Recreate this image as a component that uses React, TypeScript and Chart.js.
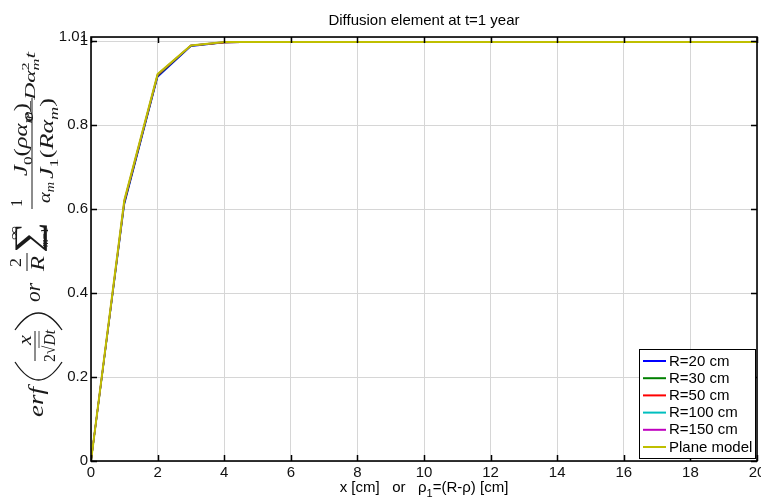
import React, { useEffect, useRef } from 'react';
import { Chart, registerables } from 'chart.js';

Chart.register(...registerables);

const xValues = [0, 1, 2, 3, 4, 5, 6, 7, 8, 9, 10, 11, 12, 13, 14, 15, 16, 17, 18, 19, 20];
const r20 = [0, 0.611, 0.915, 0.988, 0.997, 0.998, 0.998, 0.998, 0.998, 0.998, 0.998, 0.998, 0.998, 0.998, 0.998, 0.998, 0.998, 0.998, 0.998, 0.998, 0.998];
const r30 = [0, 0.614, 0.917, 0.989, 0.997, 0.998, 0.998, 0.998, 0.998, 0.998, 0.998, 0.998, 0.998, 0.998, 0.998, 0.998, 0.998, 0.998, 0.998, 0.998, 0.998];
const r50 = [0, 0.617, 0.919, 0.990, 0.997, 0.998, 0.998, 0.998, 0.998, 0.998, 0.998, 0.998, 0.998, 0.998, 0.998, 0.998, 0.998, 0.998, 0.998, 0.998, 0.998];
const r100 = [0, 0.619, 0.920, 0.990, 0.998, 0.998, 0.998, 0.998, 0.998, 0.998, 0.998, 0.998, 0.998, 0.998, 0.998, 0.998, 0.998, 0.998, 0.998, 0.998, 0.998];
const r150 = [0, 0.620, 0.921, 0.990, 0.998, 0.998, 0.998, 0.998, 0.998, 0.998, 0.998, 0.998, 0.998, 0.998, 0.998, 0.998, 0.998, 0.998, 0.998, 0.998, 0.998];
const plane = [0, 0.621, 0.922, 0.990, 0.998, 0.998, 0.998, 0.998, 0.998, 0.998, 0.998, 0.998, 0.998, 0.998, 0.998, 0.998, 0.998, 0.998, 0.998, 0.998, 0.998];

const seriesNames = ['R=20 cm', 'R=30 cm', 'R=50 cm', 'R=100 cm', 'R=150 cm', 'Plane model'];
const seriesValues = [r20, r30, r50, r100, r150, plane];
const seriesColors = ['#0000ff', '#008000', '#ff0000', '#00bfbf', '#bf00bf', '#bfbf00'];
const seriesWidths = [1.5, 1.5, 1.5, 1.5, 1.5, 2];

const xTicks = [0, 2, 4, 6, 8, 10, 12, 14, 16, 18, 20];
const yTicks = [0, 0.2, 0.4, 0.6, 0.8, 1, 1.01];
const yBoxTicks = [0, 0.2, 0.4, 0.6, 0.8, 1];

const titleText = 'Diffusion element at t=1 year';
const SANS = "'Liberation Sans', Arial, Helvetica, sans-serif";
const SERIF = "'Liberation Serif', 'DejaVu Serif', serif";
const INK = '#1a1a1a';

type Part = { t: string; it?: boolean; sub?: boolean; sup?: boolean; noadv?: boolean };

function drawGroup(ctx: CanvasRenderingContext2D, parts: Part[], yBottom: number, yTop: number, bx: number, size: number) {
  const fontFor = (p: Part) => {
    const s = p.sub || p.sup ? size * 0.7 : size;
    return `${p.it ? 'italic ' : ''}${s}px ${SERIF}`;
  };
  let w = 0;
  for (const p of parts) {
    ctx.font = fontFor(p);
    if (!p.noadv) w += ctx.measureText(p.t).width;
  }
  const k = (yBottom - yTop) / w;
  ctx.save();
  ctx.translate(bx, yBottom);
  ctx.rotate(-Math.PI / 2);
  ctx.scale(k, 1);
  ctx.textAlign = 'left';
  ctx.textBaseline = 'alphabetic';
  ctx.fillStyle = INK;
  let u = 0;
  for (const p of parts) {
    ctx.font = fontFor(p);
    const dv = p.sub ? size * 0.25 : p.sup ? -size * 0.4 : 0;
    ctx.fillText(p.t, u, dv);
    if (!p.noadv) u += ctx.measureText(p.t).width;
  }
  ctx.restore();
}

function vline(ctx: CanvasRenderingContext2D, x: number, y1: number, y2: number, w = 1) {
  ctx.save();
  ctx.strokeStyle = INK;
  ctx.lineWidth = w;
  ctx.beginPath();
  ctx.moveTo(x, y1);
  ctx.lineTo(x, y2);
  ctx.stroke();
  ctx.restore();
}

function paren(ctx: CanvasRenderingContext2D, x1: number, x2: number, yEnd: number, yBulge: number) {
  const c = 2 * yBulge - yEnd;
  ctx.save();
  ctx.strokeStyle = INK;
  ctx.lineWidth = 1.3;
  ctx.beginPath();
  ctx.moveTo(x1, yEnd);
  ctx.quadraticCurveTo((x1 + x2) / 2, c, x2, yEnd);
  ctx.stroke();
  ctx.restore();
}

const decorPlugin = {
  id: 'decor',
  afterDatasetsDraw(chart: any) {
    const ctx: CanvasRenderingContext2D = chart.ctx;
    const { left, right, top, bottom } = chart.chartArea;
    const xs = chart.scales.x;
    const ys = chart.scales.y;
    ctx.save();
    // ticks
    ctx.strokeStyle = '#000';
    ctx.lineWidth = 1.5;
    ctx.beginPath();
    for (const v of xTicks) {
      const px = Math.round(xs.getPixelForValue(v)) + 0.5;
      ctx.moveTo(px, bottom);
      ctx.lineTo(px, bottom - 6);
      ctx.moveTo(px, top);
      ctx.lineTo(px, top + 6);
    }
    for (const v of yBoxTicks) {
      const py = Math.round(ys.getPixelForValue(v)) + 0.5;
      ctx.moveTo(left, py);
      ctx.lineTo(left + 6, py);
      ctx.moveTo(right, py);
      ctx.lineTo(right - 6, py);
    }
    ctx.stroke();
    // box
    ctx.lineWidth = 1.6;
    ctx.strokeRect(left, top, right - left, bottom - top);

    // legend
    const lx = 639.5, ly = 349.5, lw = 116, lh = 109;
    ctx.fillStyle = '#fff';
    ctx.fillRect(lx, ly, lw, lh);
    ctx.lineWidth = 1;
    ctx.strokeStyle = '#000';
    ctx.strokeRect(lx, ly, lw, lh);
    ctx.font = `15px ${SANS}`;
    ctx.textBaseline = 'middle';
    ctx.textAlign = 'left';
    seriesNames.forEach((name, i) => {
      const cy = 361 + i * 17.2;
      ctx.strokeStyle = seriesColors[i];
      ctx.lineWidth = 2;
      ctx.beginPath();
      ctx.moveTo(643, cy);
      ctx.lineTo(666, cy);
      ctx.stroke();
      ctx.fillStyle = '#000';
      ctx.fillText(name, 669, cy + 0.5);
    });

    // title
    ctx.fillStyle = '#000';
    ctx.font = `15px ${SANS}`;
    ctx.textAlign = 'center';
    ctx.textBaseline = 'middle';
    ctx.fillText(titleText, (left + right) / 2, 21);

    // x axis title with subscript
    const p1 = 'x [cm]   or   \u03C1';
    const p2 = '1';
    const p3 = '=(R-\u03C1) [cm]';
    ctx.font = `15px ${SANS}`;
    const w1 = ctx.measureText(p1).width;
    const w3 = ctx.measureText(p3).width;
    ctx.font = `11px ${SANS}`;
    const w2 = ctx.measureText(p2).width;
    const tot = w1 + w2 + w3;
    const sx = (left + right) / 2 - tot / 2;
    ctx.textAlign = 'left';
    ctx.textBaseline = 'alphabetic';
    ctx.font = `15px ${SANS}`;
    ctx.fillText(p1, sx, 492);
    ctx.font = `11px ${SANS}`;
    ctx.fillText(p2, sx + w1, 497);
    ctx.font = `15px ${SANS}`;
    ctx.fillText(p3, sx + w1 + w2, 492);

    // y axis formula
    drawGroup(ctx, [{ t: 'erf', it: true }], 417, 387, 43, 20);
    paren(ctx, 15, 62, 362, 380);
    paren(ctx, 15, 62, 330, 313);
    drawGroup(ctx, [{ t: 'x', it: true }], 345, 335, 31, 18);
    vline(ctx, 35, 331, 361, 1);
    drawGroup(ctx, [{ t: '2' }, { t: '\u221A' }, { t: 'Dt', it: true }], 362, 330, 55, 17);
    vline(ctx, 39, 331, 348, 0.8);
    drawGroup(ctx, [{ t: 'or', it: true }], 302, 283, 40, 20);
    drawGroup(ctx, [{ t: '2' }], 267, 258, 21, 16);
    vline(ctx, 27, 253, 271, 1);
    drawGroup(ctx, [{ t: 'R', it: true }], 271, 256, 44, 18);
    drawGroup(ctx, [{ t: '\u2211' }], 253, 222, 39, 36);
    drawGroup(ctx, [{ t: '\u221E' }], 240, 226, 18, 13);
    drawGroup(ctx, [{ t: 'm', it: true }, { t: '=1' }], 247, 228, 48, 11);
    drawGroup(ctx, [{ t: '1' }], 207, 199, 22, 16);
    vline(ctx, 32, 98, 209, 1);
    drawGroup(ctx, [{ t: '\u03B1', it: true }, { t: 'm', it: true, sub: true }], 203, 182, 50, 17);
    drawGroup(ctx, [{ t: 'J', it: true }, { t: '0', sub: true }, { t: '(' }, { t: '\u03C1\u03B1', it: true }, { t: 'm', it: true, sub: true }, { t: ')' }], 176, 103, 27, 19);
    drawGroup(ctx, [{ t: 'J', it: true }, { t: '1', sub: true }, { t: '(' }, { t: 'R\u03B1', it: true }, { t: 'm', it: true, sub: true }, { t: ')' }], 179, 98, 53, 19);
    drawGroup(ctx, [{ t: 'e', it: true }], 122, 112, 33, 17);
    drawGroup(ctx, [{ t: '\u2212' }, { t: 'D\u03B1', it: true }, { t: '2', sup: true, noadv: true }, { t: 'm', it: true, sub: true }, { t: 't', it: true }], 113, 52, 35, 14);

    ctx.restore();
  },
};

export default function App() {
  const ref = useRef<HTMLCanvasElement | null>(null);
  useEffect(() => {
    if (!ref.current) return;
    const chart = new Chart(ref.current, {
      type: 'line',
      data: {
        datasets: seriesNames.map((name, i) => ({
          label: name,
          data: xValues.map((x, j) => ({ x, y: seriesValues[i][j] })),
          borderColor: seriesColors[i],
          backgroundColor: seriesColors[i],
          borderWidth: seriesWidths[i],
          pointRadius: 0,
          tension: 0,
          fill: false,
          order: seriesNames.length - 1 - i,
        })),
      },
      options: {
        responsive: false,
        animation: false,
        devicePixelRatio: 1,
        layout: { padding: { top: 37, right: 4, left: 0, bottom: 0 } },
        plugins: { legend: { display: false }, title: { display: false }, tooltip: { enabled: false } },
        scales: {
          x: {
            type: 'linear',
            min: 0,
            max: 20,
            afterBuildTicks: (s: any) => { s.ticks = xTicks.map((v) => ({ value: v })); },
            afterFit: (s: any) => { s.height = 37; s.paddingLeft = 0; s.paddingRight = 0; },
            ticks: {
              padding: 3,
              autoSkip: false,
              maxRotation: 0,
              color: '#111',
              font: { size: 15, family: SANS },
              callback: (v: any) => String(v),
            },
            grid: { color: '#d6d6d6', lineWidth: 1, drawTicks: false },
            border: { display: false },
          },
          y: {
            type: 'linear',
            min: 0,
            max: 1.01,
            afterBuildTicks: (s: any) => { s.ticks = yTicks.map((v) => ({ value: v })); },
            afterFit: (s: any) => { s.width = 91; s.paddingTop = 0; s.paddingBottom = 0; },
            ticks: {
              padding: 3,
              autoSkip: false,
              color: '#111',
              font: { size: 15, family: SANS },
              callback: (v: any) => (v === 1.01 ? '1.01' : String(Number(Number(v).toFixed(2)))),
            },
            grid: { color: '#d6d6d6', lineWidth: 1, drawTicks: false },
            border: { display: false },
          },
        },
      },
      plugins: [decorPlugin],
    } as any);
    return () => chart.destroy();
  }, []);
  return (
    <div style={{ position: 'fixed', left: 0, top: 0, width: 761, height: 498, background: '#fff' }}>
      <canvas ref={ref} width={761} height={498} style={{ width: 761, height: 498, display: 'block' }} />
    </div>
  );
}
